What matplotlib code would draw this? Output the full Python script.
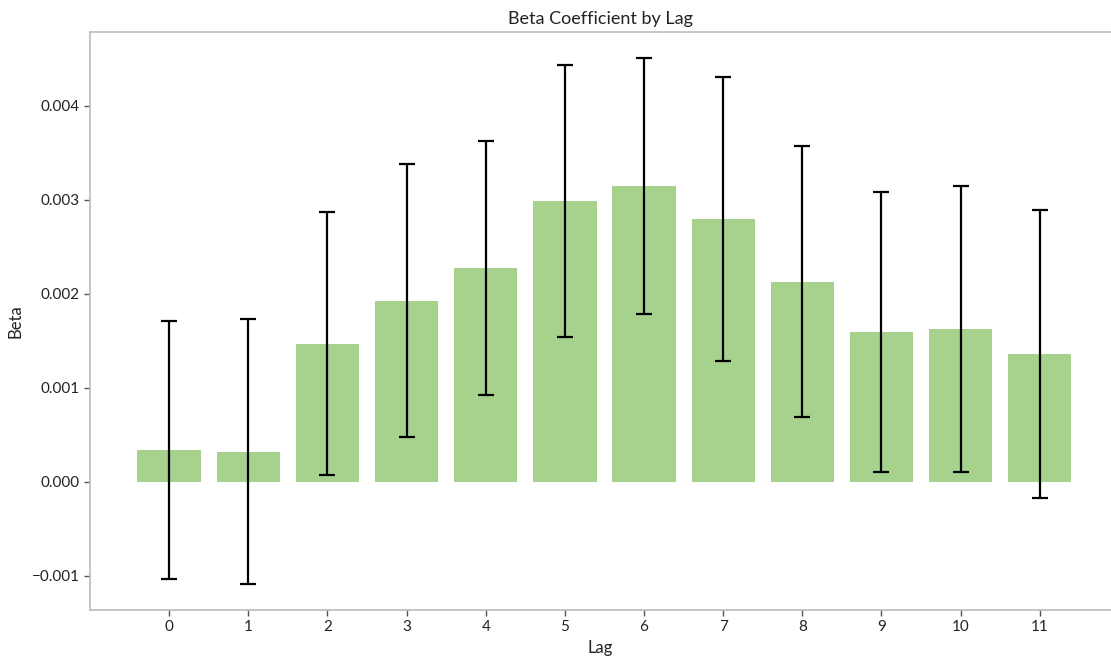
import matplotlib.pyplot as plt

# beta estimates per lag with their error half-widths
lags = list(range(12))
beta = [0.00034, 0.00032, 0.00147, 0.00193, 0.00228, 0.00299,
        0.00315, 0.00280, 0.00213, 0.00160, 0.00163, 0.00136]
err = [0.00137, 0.00141, 0.00140, 0.00145, 0.00135, 0.00145,
       0.00136, 0.00151, 0.00144, 0.00149, 0.00152, 0.00153]

plt.rcParams['font.family'] = ['Lato', 'DejaVu Sans']

fig = plt.figure(figsize=(11.11, 6.64), dpi=100)
ax = fig.add_axes([0.081, 0.0813, 0.919, 0.8705])

ax.bar(lags, beta, width=0.8, color='#a6d28d')
ax.errorbar(lags, beta, yerr=err, fmt='none', ecolor='black',
            elinewidth=1.6, capsize=6, capthick=1.6)

ax.set_xlim(-1.0, 11.9)
ax.set_ylim(-0.001362, 0.004787)
ax.set_xticks(lags)
ax.set_yticks([-0.001, 0.0, 0.001, 0.002, 0.003, 0.004])
ax.set_yticklabels(['\u22120.001', '0.000', '0.001', '0.002', '0.003', '0.004'])

for side in ['left', 'top', 'bottom']:
    ax.spines[side].set_color('#bbbbbb')
    ax.spines[side].set_linewidth(1.2)
ax.spines['right'].set_visible(False)
ax.tick_params(axis='both', colors='#555555', labelcolor='#222222',
               labelsize=11, length=4, width=1)

ax.set_title('Beta Coefficient by Lag', fontsize=13, color='#222222', pad=6)
ax.set_xlabel('Lag', fontsize=12, color='#222222', labelpad=4)
ax.set_ylabel('Beta', fontsize=12, color='#222222', labelpad=6)

fig.savefig('out.png', dpi=100)
